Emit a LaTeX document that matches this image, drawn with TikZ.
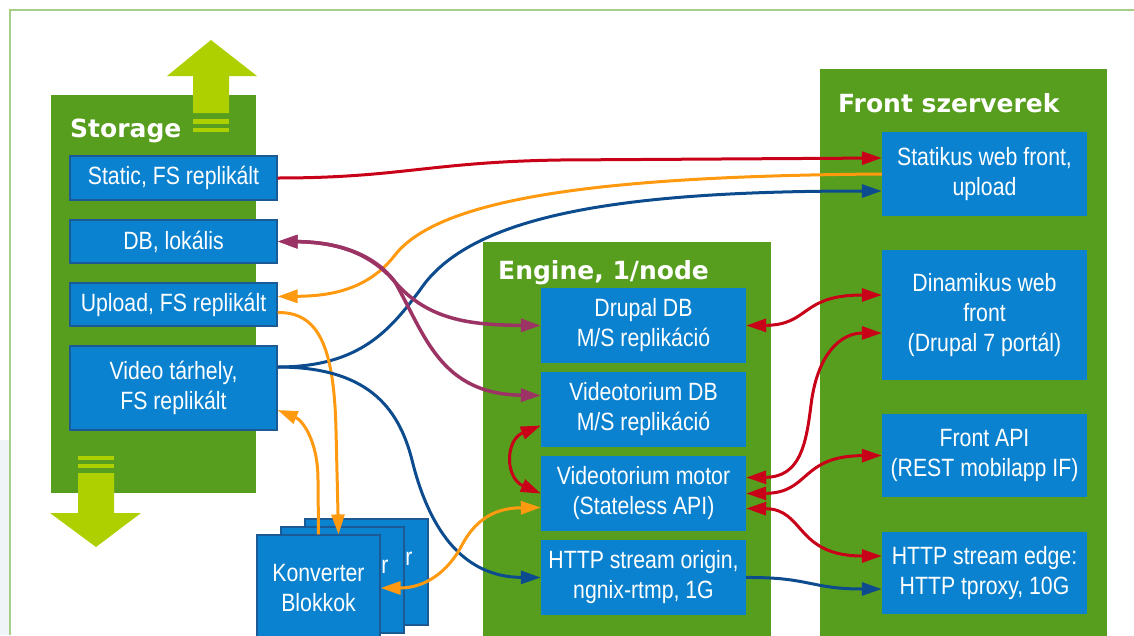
\documentclass[tikz,border=0pt]{standalone}
\usepackage{fontspec}
\setmainfont{Liberation Sans}[FakeStretch=0.85]
\newfontfamily\titlefont{DejaVu Sans}
\usetikzlibrary{arrows.meta}

\definecolor{panelgreen}{HTML}{589E1E}
\definecolor{boxblue}{HTML}{0A82CF}
\definecolor{boxline}{HTML}{1C5A96}
\definecolor{limegreen}{HTML}{AECF00}
\definecolor{framegreen}{HTML}{A5CF88}
\definecolor{slideshade}{HTML}{EEF4F7}
\definecolor{linkred}{HTML}{C80018}
\definecolor{linkorange}{HTML}{FF9A10}
\definecolor{linkblue}{HTML}{0C4C8E}
\definecolor{linkpurple}{HTML}{9B3464}

\newcommand{\boxfont}{\fontsize{25}{30}\selectfont}
\newcommand{\headfont}{\titlefont\bfseries\fontsize{25}{30}\selectfont}
\newcommand{\hiddenkonv}{\phantom{Konverte}r\\\phantom{Blokkok}}

\tikzset{
  >={Triangle[length=20pt,width=13pt]},
  paneltitle/.style={anchor=base west, inner sep=0, text=white, font=\headfont},
  storebox/.style={fill=boxblue, draw=boxline, line width=1.2pt, text=white,
    inner sep=0, align=center, minimum width=207pt, font=\boxfont},
  enginebox/.style={fill=boxblue, text=white, inner sep=0, align=center,
    minimum width=205pt, minimum height=75pt, font=\boxfont},
  frontbox/.style={fill=boxblue, text=white, inner sep=0, align=center,
    minimum width=205pt, font=\boxfont},
  konvbox/.style={storebox, minimum width=123pt, minimum height=106pt},
  redlink/.style={draw=linkred, line width=3pt},
  orangelink/.style={draw=linkorange, line width=3pt},
  bluelink/.style={draw=linkblue, line width=3pt},
  purplelink/.style={draw=linkpurple, line width=3.5pt}
}

\begin{document}
\begin{tikzpicture}[x=1pt,y=-1pt]
  \useasboundingbox (0,0) rectangle (1134,635);
  \clip (0,0) rectangle (1134,635);

  \fill[slideshade] (0,440) rectangle (9,635);
  \draw[framegreen,line width=1.5pt] (10,635) -- (10,10) -- (1134,10);

  \fill[panelgreen] (51,95) rectangle (256,493);
  \fill[panelgreen] (483,242) rectangle (771,640);
  \fill[panelgreen] (820,69) rectangle (1107,640);

  % ki / be
  \fill[limegreen] (193,113) -- (193,76) -- (167,76) -- (211,40) -- (257,76) -- (229,76) -- (229,113) -- cycle;
  \fill[limegreen] (193,119) rectangle (229,124);
  \fill[limegreen] (193,128) rectangle (229,132);
  \fill[limegreen] (78,456) rectangle (114,460);
  \fill[limegreen] (78,464) rectangle (114,468);
  \fill[limegreen] (78,473) -- (114,473) -- (114,513) -- (141,513) -- (96,547) -- (50,513) -- (78,513) -- cycle;

  \node[paneltitle] (storagetitle) at (70,137) {Storage};
  \node[paneltitle] (enginetitle) at (498,279) {Engine, 1/node};
  \node[paneltitle] (fronttitle) at (838,112) {Front szerverek};

  \node[storebox, minimum height=44pt] (stat) at (173.5,178) {Static, FS replikált};
  \node[storebox, minimum height=43pt] (dbloc) at (173.5,241.5) {DB, lokális};
  \node[storebox, minimum height=43pt] (upl) at (173.5,304.5) {Upload, FS replikált};
  \node[storebox, minimum height=84pt] (vid) at (173.5,388) {Video tárhely,\\FS replikált};

  \node[konvbox] (konvc) at (366.5,572) {\hiddenkonv};
  \node[konvbox] (konvb) at (342.5,580) {\hiddenkonv};
  \node[konvbox] (konv) at (318.5,588) {Konverter\\Blokkok};

  \node[enginebox] (drdb) at (643.5,325.5) {Drupal DB\\M/S replikáció};
  \node[enginebox] (vtdb) at (643.5,409.5) {Videotorium DB\\M/S replikáció};
  \node[enginebox] (motor) at (643.5,493.5) {Videotorium motor\\(Stateless API)};
  \node[enginebox] (origin) at (643.5,577.5) {HTTP stream origin,\\ngnix-rtmp, 1G};

  \node[frontbox, minimum height=84pt] (sfront) at (984.5,174) {Statikus web front,\\upload};
  \node[frontbox, minimum height=130pt] (dfront) at (984.5,315) {Dinamikus web\\front\\(Drupal 7 portál)};
  \node[frontbox, minimum height=83pt] (api) at (984.5,455.5) {Front API\\(REST mobilapp IF)};
  \node[frontbox, minimum height=82pt] (sedge) at (984.5,573) {HTTP stream edge:\\HTTP tproxy, 10G};

  \draw[redlink,->] (stat.east) .. controls (400,178) and (430,162) .. (560,160) -- ([yshift=16pt]sfront.west);
  \draw[orangelink,->] (sfront.west) .. controls (600,176) and (440,198) .. (395,255) .. controls (368,290) and (330,296) .. ([yshift=8pt]upl.east);
  \draw[bluelink,->] ([yshift=21pt]vid.east) .. controls (360,367) and (390,330) .. (420,290) .. controls (470,215) and (620,191) .. ([yshift=-17pt]sfront.west);

  \draw[purplelink,<->] (dbloc.east) .. controls (340,242) and (372,255) .. (395,282) .. controls (428,320) and (470,325) .. (drdb.west);
  \draw[purplelink,<->] (dbloc.east) .. controls (340,242) and (375,255) .. (395,282) .. controls (425,335) and (440,394) .. ([yshift=14pt]vtdb.west);

  \draw[orangelink,->] ([yshift=-8pt]upl.east) .. controls (318,312) and (334,345) .. (336,430) -- ([xshift=20pt]konv.north);
  \draw[orangelink,->] (konv.north) -- (318,480) .. controls (318,440) and (302,420) .. ([yshift=-22pt]vid.east);
  \draw[bluelink,->] ([yshift=21pt]vid.east) .. controls (365,367) and (398,405) .. (412,460) .. controls (428,525) and (460,577) .. (origin.west);
  \draw[orangelink,<->] (konv.east) .. controls (425,588) and (448,572) .. (462,545) .. controls (478,515) and (500,508) .. ([yshift=-14pt]motor.west);

  \draw[redlink,<->] ([yshift=-16pt]vtdb.west) .. controls (505,440) and (505,478) .. (motor.west);
  \draw[redlink,<->] (drdb.east) .. controls (810,325) and (800,295) .. ([yshift=20pt]dfront.west);
  \draw[redlink,<->] ([yshift=16pt]motor.east) .. controls (800,477) and (806,445) .. (811,405) .. controls (817,355) and (840,333) .. ([yshift=-18pt]dfront.west);
  \draw[redlink,<->] (motor.east) .. controls (810,493) and (800,456) .. (api.west);
  \draw[redlink,<->] ([yshift=-15pt]motor.east) .. controls (805,509) and (795,556) .. ([yshift=17pt]sedge.west);
  \draw[bluelink,->] (origin.east) .. controls (810,577) and (810,589) .. ([yshift=-16pt]sedge.west);
\end{tikzpicture}
\end{document}
